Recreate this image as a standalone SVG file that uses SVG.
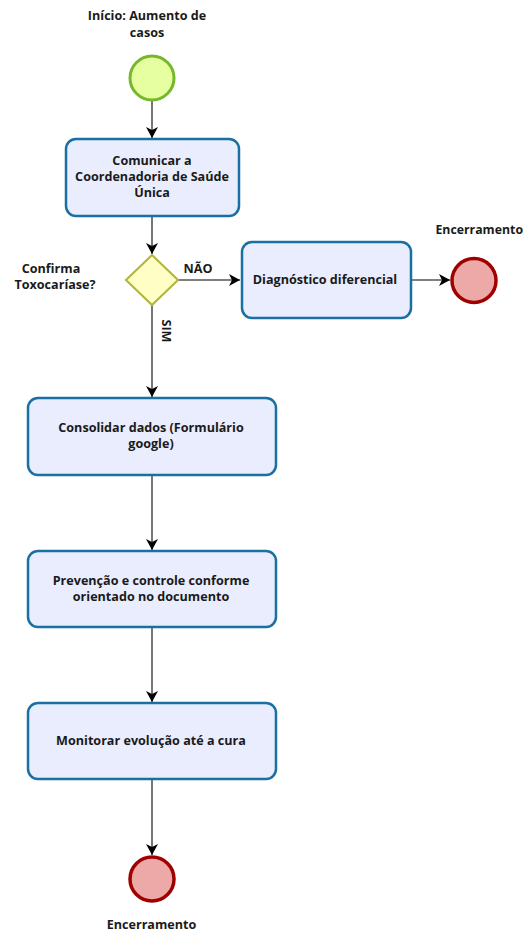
<svg xmlns="http://www.w3.org/2000/svg" width="525" height="933" viewBox="0 0 525 933">
<defs>
<style>
text{font-family:"Open Sans","Noto Sans","DejaVu Sans",sans-serif;font-weight:bold;font-size:12.6px;fill:#1a1a1a;text-anchor:middle}
.task{fill:#e9edfd;stroke:#1a6fa3;stroke-width:2.5}
.start{fill:#e6ffa0;stroke:#76b82a;stroke-width:3}
.end{fill:#eda8a8;stroke:#a00000;stroke-width:3.5}
.gw{fill:#ffffc5;stroke:#b3b33a;stroke-width:2}
.conn{fill:none;stroke:#555;stroke-width:1.6}
</style>
<marker id="arr" markerWidth="12" markerHeight="12" refX="11" refY="6" orient="auto" markerUnits="userSpaceOnUse">
<path d="M0,0 L11,6 L0,12 L3,6 Z" fill="#000"/>
</marker>
</defs>
<rect width="525" height="933" fill="#fff"/>

<g id="connectors">
<line class="conn" x1="152" y1="101" x2="152" y2="138" marker-end="url(#arr)"/>
<line class="conn" x1="152" y1="216" x2="152" y2="254" marker-end="url(#arr)"/>
<line class="conn" x1="177" y1="280" x2="240" y2="280" marker-end="url(#arr)"/>
<line class="conn" x1="411" y1="280" x2="450" y2="280" marker-end="url(#arr)"/>
<line class="conn" x1="152" y1="305" x2="152" y2="397" marker-end="url(#arr)"/>
<line class="conn" x1="152" y1="475" x2="152" y2="550" marker-end="url(#arr)"/>
<line class="conn" x1="152" y1="627" x2="152" y2="702" marker-end="url(#arr)"/>
<line class="conn" x1="152" y1="779" x2="152" y2="855" marker-end="url(#arr)"/>
<text x="198" y="273">NÃO</text>
<text transform="translate(162,331) rotate(90)">SIM</text>
</g>

<g id="start">
<circle class="start" cx="152" cy="78" r="22"/>
<text x="147" y="20">Início: Aumento de</text>
<text x="147" y="37">casos</text>
</g>

<g id="task1">
<rect class="task" x="66" y="139" width="173" height="77" rx="10"/>
<text x="152" y="165">Comunicar a</text>
<text x="152" y="181">Coordenadoria de Saúde</text>
<text x="152" y="197">Única</text>
</g>

<g id="gateway">
<polygon class="gw" points="152,255 178,280 152,305 126,280"/>
<text x="51" y="273">Confirma</text>
<text x="55" y="289">Toxocaríase?</text>
</g>

<g id="task2">
<rect class="task" x="242" y="242" width="169" height="76" rx="10"/>
<text x="325" y="284">Diagnóstico diferencial</text>
</g>

<g id="end1">
<circle class="end" cx="474" cy="280.5" r="22"/>
<text x="523" y="234" style="text-anchor:end;font-size:12.3px">Encerramento</text>
</g>

<g id="task3">
<rect class="task" x="28" y="398" width="248" height="77" rx="10"/>
<text x="151" y="432">Consolidar dados (Formulário</text>
<text x="151" y="448">google)</text>
</g>

<g id="task4">
<rect class="task" x="28" y="551" width="248" height="76" rx="10"/>
<text x="151" y="585">Prevenção e controle conforme</text>
<text x="151" y="601">orientado no documento</text>
</g>

<g id="task5">
<rect class="task" x="28" y="703" width="248" height="76" rx="10"/>
<text x="151" y="745">Monitorar evolução até a cura</text>
</g>

<g id="end2">
<circle class="end" cx="152" cy="879" r="22"/>
<text x="151.5" y="929">Encerramento</text>
</g>
</svg>
